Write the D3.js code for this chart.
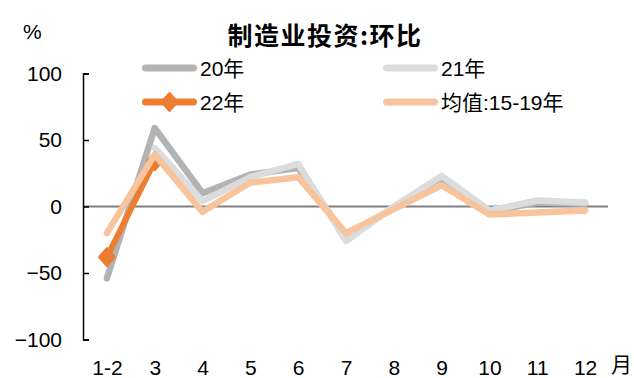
<!DOCTYPE html>
<html>
<head>
<meta charset="utf-8">
<script src="https://cdn.jsdelivr.net/npm/d3@7"></script>
<style>
  body { margin: 0; background: #fff; }
  svg { display: block; font-family: "Liberation Sans", Arial, "Noto Sans CJK SC", sans-serif; }
</style>
</head>
<body>
<svg id="chart" width="634" height="378"></svg>
<script>
// Manufacturing investment, month-on-month (%)
const months = ["1-2", "3", "4", "5", "6", "7", "8", "9", "10", "11", "12"];
const y2020 = [-54, 59, 10, 24, 29, -23, -1, 20, -4, 3, 2];
const y2021 = [null, 44, 4, 22, 32, -26, 0, 23, -3, 4.5, 3];
const y2022 = [-38, 34];
const avg1519 = [-20, 39, -4, 18, 22, -20, -2, 16, -6, -4.5, -3];
const yTicks = [-100, -50, 0, 50, 100];

const width = 634, height = 378;
const svg = d3.select("#chart");

const x = d3.scalePoint()
  .domain(months)
  .range([83, 609])
  .padding(0.5);

const y = d3.scaleLinear()
  .domain([-100, 100])
  .range([339.5, 73.5]);

const series = [
  { name: "20年", values: y2020, color: "#b3b3b3", width: 6.5 },
  { name: "21年", values: y2021, color: "#dcdcdc", width: 6.5 },
  { name: "22年", values: y2022, color: "#ed7d31", width: 6, marker: true },
  { name: "均值:15-19年", values: avg1519, color: "#f7c49d", width: 6.5 }
];

const diamond = "M0,-9L8,0L0,9L-8,0Z";

// zero line
svg.append("line")
  .attr("x1", 83).attr("x2", 608)
  .attr("y1", y(0)).attr("y2", y(0))
  .attr("stroke", "#808080")
  .attr("stroke-width", 2);

// y axis, ticks pointing into the plot
const yAxis = svg.append("g")
  .attr("transform", "translate(83,0)")
  .call(d3.axisLeft(y).tickValues(yTicks).tickSizeInner(-6).tickSizeOuter(-6).tickPadding(21));
yAxis.select(".domain").attr("stroke", "#000").attr("stroke-width", 1.5);
yAxis.selectAll(".tick line").attr("stroke", "#000").attr("stroke-width", 1.5);
yAxis.selectAll(".tick text")
  .attr("fill", "#000")
  .style("font-size", "21px");

// x axis labels only
const xAxis = svg.append("g")
  .attr("transform", "translate(0,357)")
  .call(d3.axisBottom(x).tickSize(0).tickPadding(3));
xAxis.select(".domain").remove();
xAxis.selectAll(".tick text")
  .attr("fill", "#000")
  .style("font-size", "21px");

// lines
const line = d3.line()
  .defined(d => d != null)
  .x((d, i) => x(months[i]))
  .y(d => y(d));

series.forEach(s => {
  svg.append("path")
    .attr("fill", "none")
    .attr("stroke", s.color)
    .attr("stroke-width", s.width)
    .attr("stroke-linejoin", "round")
    .attr("stroke-linecap", "round")
    .attr("d", line(s.values));
  if (s.marker) {
    svg.append("g").selectAll("path")
      .data(s.values)
      .join("path")
      .attr("transform", (d, i) => `translate(${x(months[i])},${y(d)})`)
      .attr("d", diamond)
      .attr("fill", s.color)
      .attr("stroke", s.color)
      .attr("stroke-width", 2)
      .attr("stroke-linejoin", "round");
  }
});

// unit labels
svg.append("text")
  .attr("x", 23).attr("y", 39)
  .style("font-size", "21px")
  .text("%");

svg.append("text")
  .attr("x", 611).attr("y", 372)
  .style("font-size", "21px")
  .style("font-family", "'Noto Sans CJK SC', sans-serif")
  .text("月");

// title
svg.append("text")
  .attr("x", 325).attr("y", 34)
  .attr("text-anchor", "middle")
  .attr("dominant-baseline", "central")
  .style("font-family", "'Noto Sans CJK SC', sans-serif")
  .style("font-weight", "bold")
  .style("font-size", "25px")
  .style("letter-spacing", "1.5px")
  .text("制造业投资:环比");

// legend
const legendPos = [
  { x: 142, y: 68 },
  { x: 383, y: 68 },
  { x: 142, y: 102 },
  { x: 383, y: 102 }
];

series.forEach((s, i) => {
  const p = legendPos[i];
  const row = svg.append("g").attr("transform", `translate(${p.x},${p.y})`);
  row.append("line")
    .attr("x1", 3.5).attr("x2", 51.5)
    .attr("stroke", s.color)
    .attr("stroke-width", 7)
    .attr("stroke-linecap", "round");
  if (s.marker) {
    row.append("path")
      .attr("transform", "translate(27.5,0)")
      .attr("d", diamond)
      .attr("fill", s.color)
      .attr("stroke", s.color)
      .attr("stroke-width", 2)
      .attr("stroke-linejoin", "round");
  }
  row.append("text")
    .attr("x", 58)
    .attr("dy", "0.36em")
    .style("font-size", "21px")
    .text(s.name);
});
</script>
</body>
</html>
